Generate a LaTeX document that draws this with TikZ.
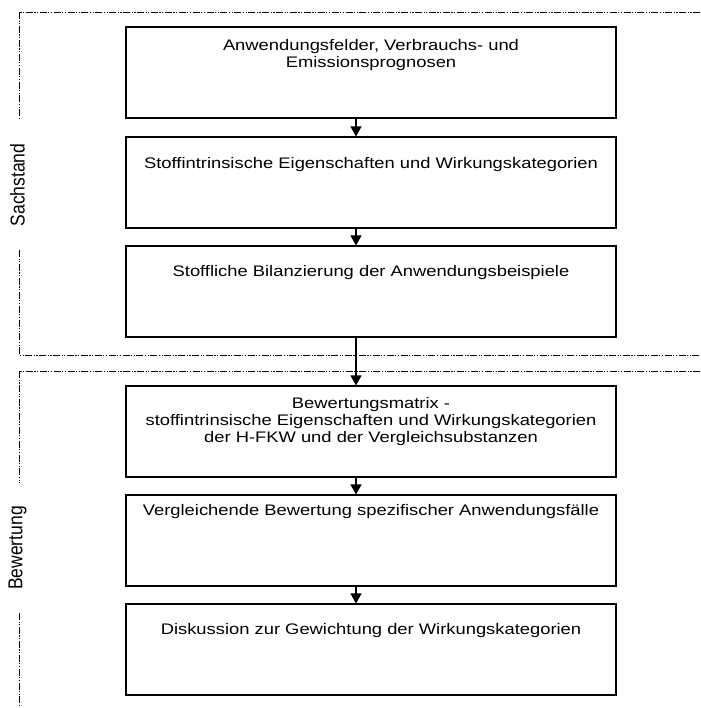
\documentclass[tikz,border=0pt]{standalone}
\usepackage{fontspec}
\setmainfont{Liberation Sans}
\newfontfamily\boxfont[FakeStretch=1.2]{Liberation Sans}
\usetikzlibrary{arrows.meta,shadows}
\begin{document}
\begin{tikzpicture}[x=1pt,y=-1pt,
  box/.style={draw, line width=1.1pt, fill=white, minimum width=490pt, minimum height=91pt, inner sep=0pt,
    drop shadow={shadow xshift=1.3pt, shadow yshift=-1.3pt, fill=black!40, opacity=1}},
  txt/.style={font=\boxfont\fontsize{15.3}{17}\selectfont, align=center, inner sep=0pt},
  arr/.style={line width=1.1pt, -{Triangle[width=11pt,length=10pt]}},
  grp/.style={line width=0.9pt, dash pattern=on 7pt off 1.5pt on 1.2pt off 1.5pt on 1.2pt off 1.5pt},
  lab/.style={rotate=90, font=\fontsize{17.5}{20}\selectfont, inner sep=0pt}]
\useasboundingbox (0,0) rectangle (700,708);
% groups
\draw[grp] (700,12) -- (19,12) -- (19,119);
\draw[grp] (19,250) -- (19,355) -- (700,355);
\draw[grp] (700,371) -- (19,371) -- (19,483);
\draw[grp] (19,613) -- (19,708);
\node[lab] (l1) at (17.5,185) {\scalebox{1}[1.15]{Sachstand}};
\node[lab] (l2) at (17.5,548) {\scalebox{1}[1.15]{Bewertung}};
% boxes
\node[box] (b1) at (371,72.5) {};
\node[box] (b2) at (371,182.5) {};
\node[box] (b3) at (371,291.5) {};
\node[box] (b4) at (371,431.5) {};
\node[box] (b5) at (371,540.5) {};
\node[box] (b6) at (371,649.5) {};
% texts
\node[txt] (t1) at (371,55) {Anwendungsfelder, Verbrauchs- und\\Emissionsprognosen};
\node[txt] (t2) at (371,165) {Stoffintrinsische Eigenschaften und Wirkungskategorien};
\node[txt] (t3) at (371,273) {Stoffliche Bilanzierung der Anwendungsbeispiele};
\node[txt] (t4) at (371,422) {Bewertungsmatrix -\\stoffintrinsische Eigenschaften und Wirkungskategorien\\der H-FKW und der Vergleichsubstanzen};
\node[txt] (t5) at (371,512) {Vergleichende Bewertung spezifischer Anwendungsfälle};
\node[txt] (t6) at (371,631) {Diskussion zur Gewichtung der Wirkungskategorien};
% arrows
\coordinate (ax) at (356,0);
\draw[arr] (b1.south -| ax) -- (b2.north -| ax);
\draw[arr] (b2.south -| ax) -- (b3.north -| ax);
\draw[arr] (b3.south -| ax) -- (b4.north -| ax);
\draw[arr] (b4.south -| ax) -- (b5.north -| ax);
\draw[arr] (b5.south -| ax) -- (b6.north -| ax);
\end{tikzpicture}
\end{document}
